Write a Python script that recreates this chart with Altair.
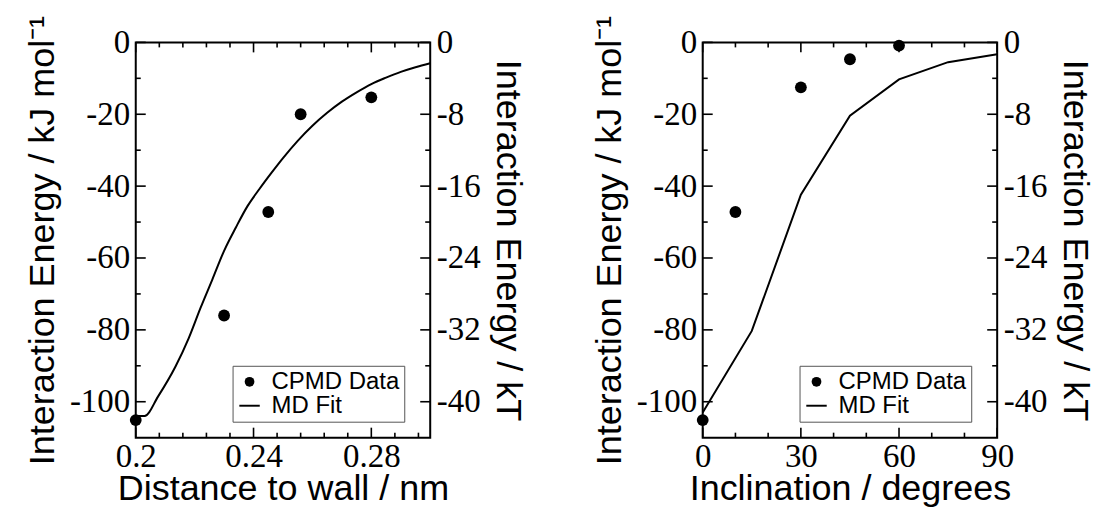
import altair as alt
import pandas as pd

# ---------------- data ----------------
dist_cpmd = [0.2, 0.23, 0.245, 0.256, 0.28]
energy_dist_cpmd = [-105.1, -76.0, -47.2, -20.0, -15.3]

dist_fit = [0.2, 0.203, 0.2076, 0.2135, 0.218, 0.222, 0.226, 0.23, 0.234, 0.238, 0.242,
            0.246, 0.25, 0.255, 0.26, 0.265, 0.27, 0.275, 0.28, 0.285, 0.29, 0.295, 0.3]
energy_dist_fit = [-104.0, -104.0, -98.5, -90.2, -82.3, -73.9, -66.0, -58.0, -51.5, -45.5, -40.8,
                   -36.4, -32.2, -27.4, -23.2, -19.6, -16.5, -13.9, -11.6, -9.8, -8.2, -6.9, -5.8]

incl_cpmd = [0, 10, 30, 45, 60]
energy_incl_cpmd = [-105.1, -47.2, -12.5, -4.7, -0.9]

incl_fit = [0, 15, 30, 45, 60, 75, 90]
energy_incl_fit = [-103.0, -80.3, -42.4, -20.4, -10.3, -5.5, -3.3]

series_names = ["CPMD Data", "MD Fit"]

y_major = [0, -20, -40, -60, -80, -100]
y_minor = [-10, -30, -50, -70, -90]
dist_major = [0.2, 0.24, 0.28]
dist_minor = [0.208, 0.216, 0.224, 0.232, 0.248, 0.256, 0.264, 0.272, 0.288, 0.296]
incl_major = [0, 30, 60, 90]
incl_minor = [10, 20, 40, 50, 70, 80]

y_title_left = "Interaction Energy / kJ mol\u207b\u00b9"
y_title_right = "Interaction Energy / kT"

# ---------------- styling ----------------
SERIF = "Liberation Serif"
SANS = "Liberation Sans"
W, H = 295, 396
LABEL_SIZE = 33
TITLE_SIZE = 36
MAJOR, MINOR = 10, 5
TICK_W = 1.6


def axis(orient, values, label_expr, title, **kw):
    return alt.Axis(
        orient=orient, values=values, domain=False, grid=False, ticks=False,
        labelFont=SERIF, labelFontSize=LABEL_SIZE, labelColor="black",
        labelExpr=label_expr, labelOverlap=False, labelFlush=False,
        title=title, titleFont=SANS, titleFontSize=TITLE_SIZE,
        titleFontWeight="normal", titleColor="black", titleBaseline="alphabetic",
        **kw,
    )


def panel(xc, yc, xf, yf, xdomain, xmaj, xmin, xtitle, interp):
    pts = pd.DataFrame({"x": xc, "y": yc, "series": series_names[0]})
    fit = pd.DataFrame({"x": xf, "y": yf})
    xs = alt.Scale(domain=xdomain, nice=False, zero=False)
    ys = alt.Scale(domain=[-110, 0], nice=False, zero=False)

    line = alt.Chart(fit).mark_line(color="black", strokeWidth=2, interpolate=interp).encode(
        x=alt.X("x:Q", scale=xs,
                axis=axis("bottom", xmaj, "'' + datum.value", xtitle, labelPadding=29,
                          labelBaseline="alphabetic", titleX=W / 2, titleY=62)),
        y=alt.Y("y:Q", scale=ys,
                axis=axis("left", y_major, "'' + datum.value", y_title_left, labelPadding=6,
                          titleX=-82, titleY=H / 2, titleAngle=270)),
    )

    points = alt.Chart(pts).mark_point(filled=True, color="black", size=140, opacity=1).encode(
        x=alt.X("x:Q", scale=xs, axis=None),
        y=alt.Y("y:Q", scale=ys,
                axis=axis("right", y_major, "'' + (datum.value / 2.5)", y_title_right,
                          labelPadding=6, labelAlign="left",
                          titleX=66, titleY=H / 2, titleAngle=90)),
        shape=alt.Shape(
            "series:N",
            scale=alt.Scale(domain=series_names,
                            range=["circle", "M-2.1,-0.2H2.1V0.2H-2.1Z"]),
            legend=alt.Legend(
                orient="none", legendX=97, legendY=324, title=None,
                padding=4, strokeColor="#555555", fillColor="white",
                labelFont=SANS, labelFontSize=24, labelColor="black",
                symbolSize=95, symbolOffset=1, labelOffset=10, rowPadding=0,
                symbolFillColor="black",
            ),
        ),
    )

    # inward tick marks on all four sides, placed through the shared scales
    def xticks(values, length, at_top):
        yc = length / 2 if at_top else H - length / 2
        return alt.Chart(pd.DataFrame({"x": values})).mark_tick(
            color="black", orient="vertical", size=length, thickness=TICK_W, opacity=1
        ).encode(x=alt.X("x:Q", scale=xs, axis=None), y=alt.value(yc))

    def yticks(values, length, at_right):
        xc = W - length / 2 if at_right else length / 2
        return alt.Chart(pd.DataFrame({"y": values})).mark_tick(
            color="black", orient="horizontal", size=length, thickness=TICK_W, opacity=1
        ).encode(y=alt.Y("y:Q", scale=ys, axis=None), x=alt.value(xc))

    ticks = [
        xticks(xmaj, MAJOR, False), xticks(xmaj, MAJOR, True),
        xticks(xmin, MINOR, False), xticks(xmin, MINOR, True),
        yticks(y_major, MAJOR, False), yticks(y_major, MAJOR, True),
        yticks(y_minor, MINOR, False), yticks(y_minor, MINOR, True),
    ]

    return alt.layer(line, points, *ticks).resolve_axis(
        x="independent", y="independent"
    ).properties(width=W, height=H)


left = panel(dist_cpmd, energy_dist_cpmd, dist_fit, energy_dist_fit, [0.2, 0.3],
             dist_major, dist_minor, "Distance to wall / nm", "monotone")
right = panel(incl_cpmd, energy_incl_cpmd, incl_fit, energy_incl_fit, [0, 90],
              incl_major, incl_minor, "Inclination / degrees", "linear")

chart = (
    alt.hconcat(left, right, spacing=64)
    .resolve_scale(shape="independent")
    .resolve_legend(shape="independent")
    .configure_view(stroke="black", strokeWidth=2)
    .properties(background="white", padding={"left": 23, "top": 13, "right": 0, "bottom": 0})
)

chart.save("out.html", embed_options={"renderer": "svg", "actions": False})
